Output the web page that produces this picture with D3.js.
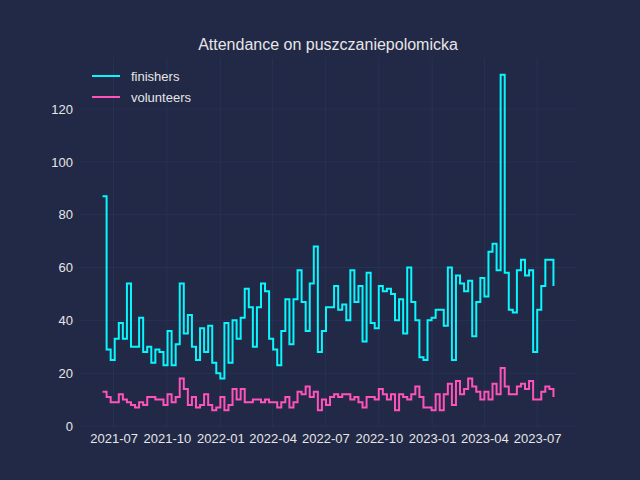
<!DOCTYPE html>
<html>
<head>
<meta charset="utf-8">
<script src="https://cdn.jsdelivr.net/npm/d3@7"></script>
<style>
  body { margin: 0; background: #212946; }
  svg { display: block; }
</style>
</head>
<body>
<svg id="chart" width="640" height="480"></svg>
<script>
// weekly runs, first one on startDate
var startDate = new Date(2021, 5, 12);
var finishers = [87,29,25,33,39,33,54,30,30,41,28,30,24,29,28,23,36,23,31,54,35,42,30,25,37,28,38,24,20,18,39,24,40,33,41,52,45,
  30,45,54,51,33,29,23,36,48,31,48,59,47,36,54,68,28,36,45,45,53,44,46,40,59,47,53,32,58,39,37,53,51,52,50,40,48,35,
  60,47,40,26,25,40,41,44,44,38,60,25,57,54,51,55,34,47,56,49,66,69,59,133,58,44,43,59,63,57,59,28,44,53,63,63,53];
var volunteers = [13,11,9,9,12,10,9,8,7,9,8,11,11,10,10,8,12,9,11,18,14,8,11,7,8,12,8,6,7,11,6,8,14,10,14,9,9,
  10,10,9,10,9,9,7,9,11,7,9,13,12,15,11,13,6,10,8,11,12,11,12,12,10,11,9,7,11,11,10,14,12,10,12,6,12,11,
  10,12,15,11,7,7,6,12,6,12,16,8,17,12,14,18,15,13,10,13,10,16,12,22,15,12,12,15,16,14,17,10,10,13,15,14,11];
var yTicks = [0, 20, 40, 60, 80, 100, 120];
var seriesNames = ["finishers", "volunteers"];
var colors = ["#08F7FE", "#FE53BB"];

var dates = finishers.map(function(d, i) { return d3.timeDay.offset(startDate, 7 * i); });

var svg = d3.select("#chart");
var mLeft = 80, mRight = 576, mTop = 57.6, mBottom = 427.2;
var font = "'Liberation Sans', Arial, sans-serif";

var x0 = dates[0], x1 = dates[dates.length - 1];
var pad = (x1 - x0) * 0.05;
var x = d3.scaleTime()
    .domain([new Date(+x0 - pad), new Date(+x1 + pad)])
    .range([mLeft, mRight]);
var y = d3.scaleLinear().domain([-0.45, 139.5]).range([mBottom, mTop]);

var xTicks = d3.timeMonth.every(3).range(new Date(2021, 6, 1), new Date(2023, 7, 2));

// grid
svg.append("g").selectAll("line").data(yTicks).join("line")
  .attr("x1", mLeft).attr("x2", mRight)
  .attr("y1", d => y(d)).attr("y2", d => y(d))
  .attr("stroke", "#2A3459").attr("stroke-width", 0.8);
svg.append("g").selectAll("line").data(xTicks).join("line")
  .attr("x1", d => x(d)).attr("x2", d => x(d))
  .attr("y1", mTop).attr("y2", mBottom)
  .attr("stroke", "#2A3459").attr("stroke-width", 0.8);

// axes labels
svg.append("g").attr("transform", "translate(" + mLeft + ",0)")
  .call(d3.axisLeft(y).tickValues(yTicks).tickSize(0).tickPadding(7));
svg.append("g").attr("transform", "translate(0," + mBottom + ")")
  .call(d3.axisBottom(x).tickValues(xTicks).tickSize(0).tickPadding(7).tickFormat(d3.timeFormat("%Y-%m")));
svg.selectAll(".domain").remove();
svg.selectAll(".tick text")
  .attr("fill", "#e6e6e6").style("font", "13px " + font);

// lines
var line = d3.line().curve(d3.curveStepAfter)
  .x((d, i) => x(dates[i])).y(d => y(d));
[finishers, volunteers].forEach(function(s, k) {
  svg.append("path").datum(s)
    .attr("d", line)
    .attr("fill", "none")
    .attr("stroke", colors[k])
    .attr("stroke-width", 2);
});

// title
svg.append("text").attr("x", (mLeft + mRight) / 2).attr("y", 50)
  .attr("text-anchor", "middle").attr("fill", "#e6e6e6")
  .style("font", "16px " + font)
  .text("Attendance on puszczaniepolomicka");

// legend
var lg = svg.append("g");
seriesNames.forEach(function(n, i) {
  var yy = 76 + i * 21;
  lg.append("line").attr("x1", 92).attr("x2", 120).attr("y1", yy).attr("y2", yy)
    .attr("stroke", colors[i]).attr("stroke-width", 2);
  lg.append("text").attr("x", 131).attr("y", yy + 5)
    .attr("fill", "#e6e6e6").style("font", "13px " + font).text(n);
});
</script>
</body>
</html>
